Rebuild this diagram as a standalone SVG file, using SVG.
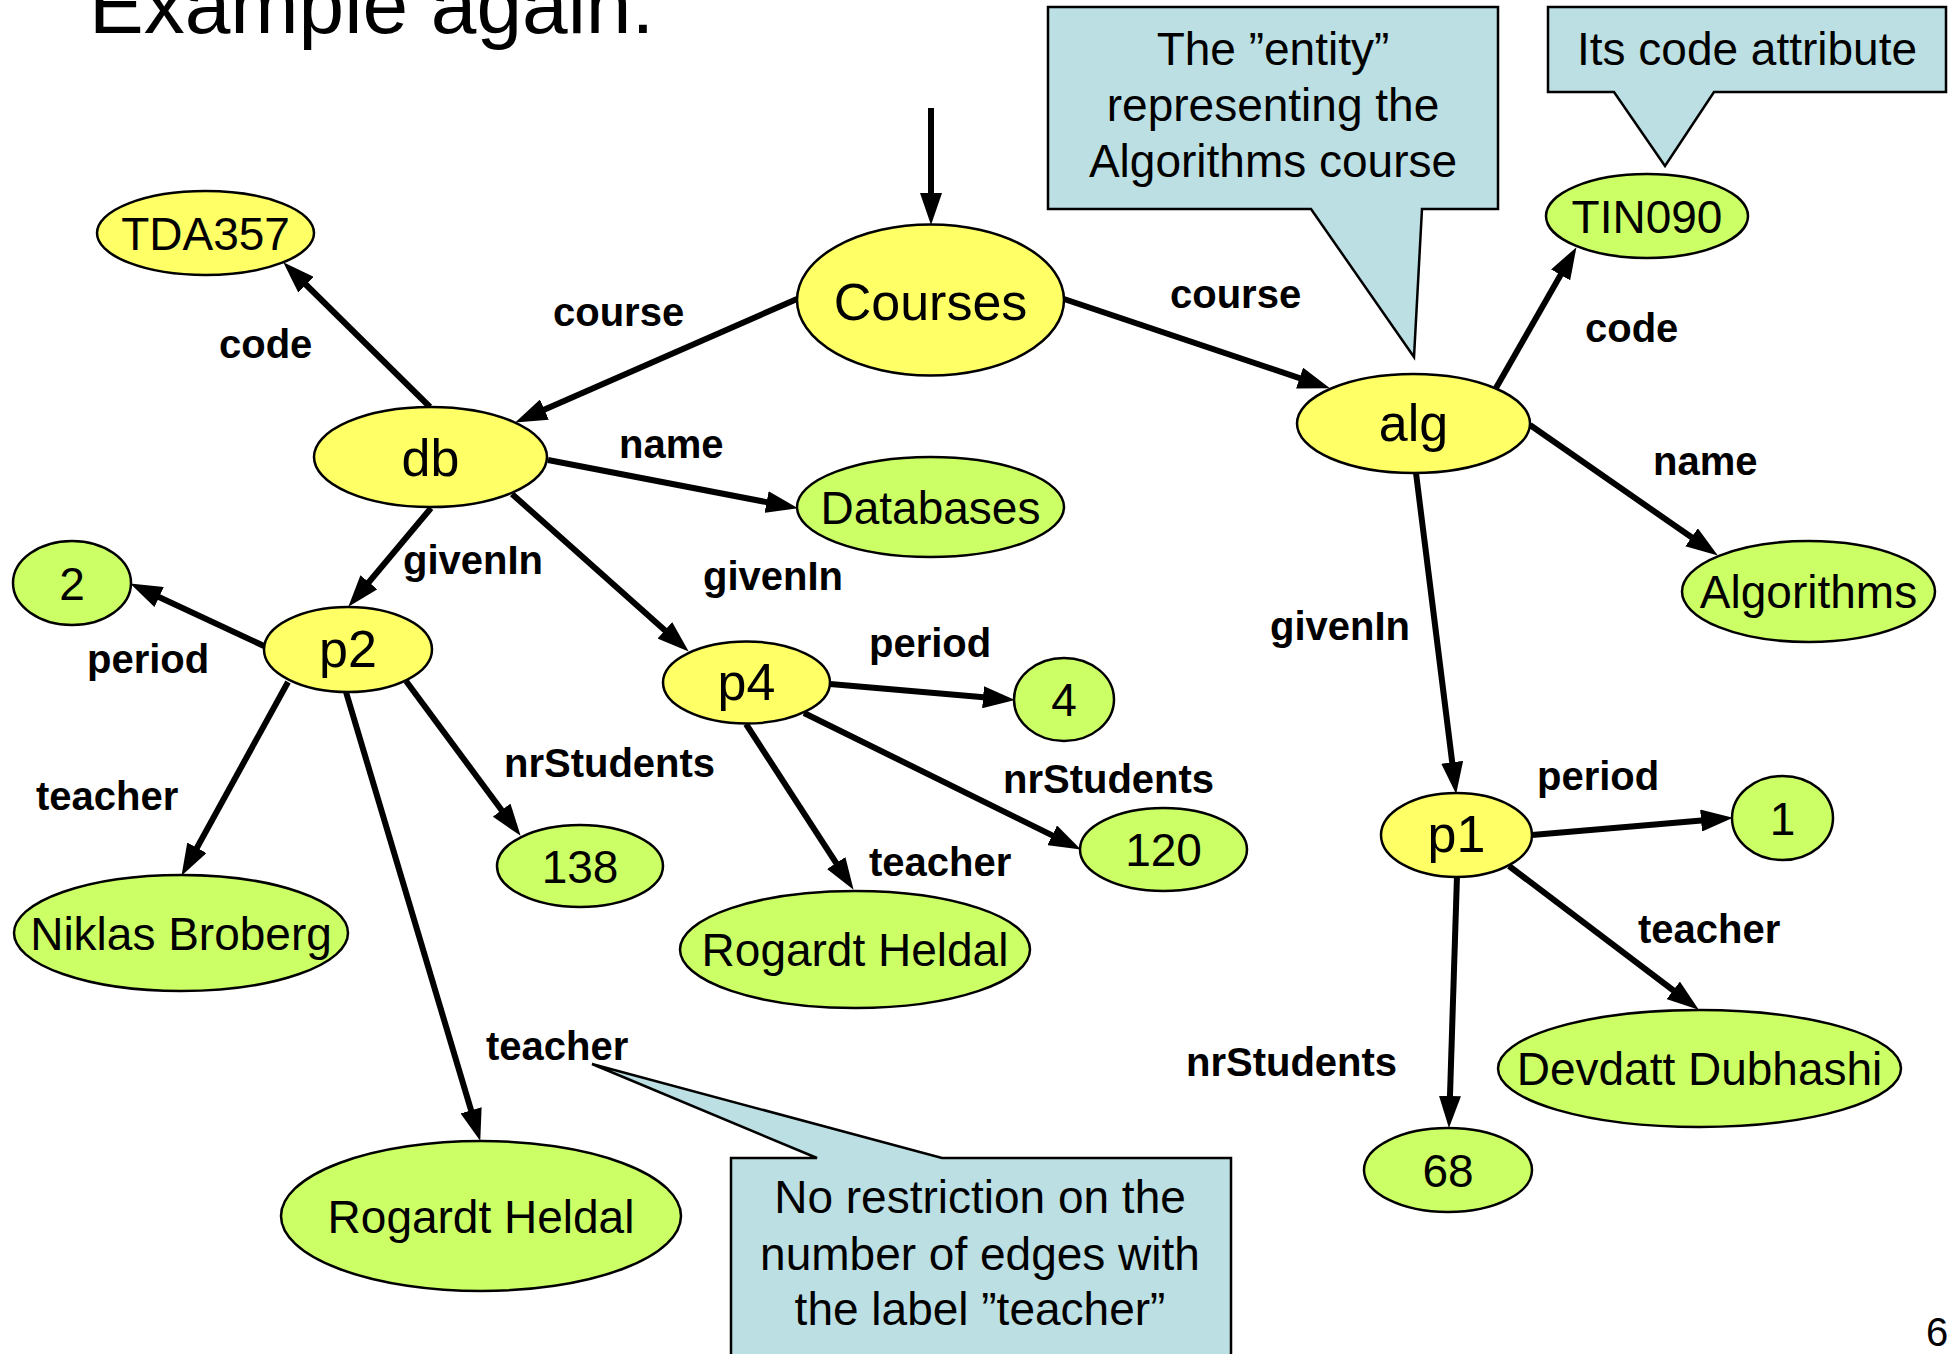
<svg xmlns="http://www.w3.org/2000/svg" width="1948" height="1354" viewBox="0 0 1948 1354">
<style>
.y{fill:#FFFF66;stroke:#000;stroke-width:2.5}
.g{fill:#CCFF66;stroke:#000;stroke-width:2.5}
.e{stroke:#000;stroke-width:6;fill:none;marker-end:url(#ah)}
.nt{font-family:"Liberation Sans",Arial,sans-serif;font-size:52px;text-anchor:middle;fill:#000}
.vt{font-family:"Liberation Sans",Arial,sans-serif;font-size:46px;text-anchor:middle;fill:#000}
.el{font-family:"Liberation Sans",Arial,sans-serif;font-size:40px;font-weight:bold;fill:#000}
.co{fill:#BBDFE2;stroke:#000;stroke-width:2.5}
.ct{font-family:"Liberation Sans",Arial,sans-serif;font-size:46px;text-anchor:middle;fill:#000}
</style>
<defs>
<marker id="ah" viewBox="0 0 32 22" refX="21" refY="11" markerWidth="32" markerHeight="22" markerUnits="userSpaceOnUse" orient="auto">
<path d="M0,0 L32,11 L0,22 z" fill="#000"/>
</marker>
</defs>
<rect width="1948" height="1354" fill="#fff"/>
<text x="89" y="33" font-family="Liberation Sans, Arial, sans-serif" font-size="82">Example again:</text>

<g id="connectors">
<line class="e" x1="931" y1="108" x2="931" y2="214"/>
<line class="e" x1="797" y1="299" x2="525.2" y2="418"/>
<line class="e" x1="1064" y1="299" x2="1319.5" y2="384.8"/>
<line class="e" x1="430" y1="407" x2="291.1" y2="270"/>
<line class="e" x1="548" y1="460" x2="787.2" y2="506.1"/>
<line class="e" x1="431" y1="508" x2="355.4" y2="598.3"/>
<line class="e" x1="512" y1="494" x2="680.5" y2="644.3"/>
<line class="e" x1="264" y1="646" x2="140.1" y2="588.2"/>
<line class="e" x1="288" y1="682" x2="186.8" y2="866.2"/>
<line class="e" x1="346" y1="692" x2="477.1" y2="1130.4"/>
<line class="e" x1="406" y1="681" x2="514.1" y2="827"/>
<line class="e" x1="830" y1="684" x2="1004" y2="699.1"/>
<line class="e" x1="804" y1="713" x2="1071" y2="844.6"/>
<line class="e" x1="746" y1="724" x2="847.6" y2="880.6"/>
<line class="e" x1="1496" y1="388" x2="1571" y2="256.7"/>
<line class="e" x1="1530" y1="425" x2="1708.8" y2="549.3"/>
<line class="e" x1="1416" y1="473" x2="1454.8" y2="783.1"/>
<line class="e" x1="1532" y1="835" x2="1722" y2="818.8"/>
<line class="e" x1="1509" y1="866" x2="1690" y2="1003"/>
<line class="e" x1="1457" y1="876" x2="1449.3" y2="1117"/>
<text class="el" x="553" y="326">course</text>
<text class="el" x="219" y="358">code</text>
<text class="el" x="1170" y="308">course</text>
<text class="el" x="1585" y="342">code</text>
<text class="el" x="619" y="458">name</text>
<text class="el" x="1653" y="475">name</text>
<text class="el" x="403" y="574">givenIn</text>
<text class="el" x="703" y="590">givenIn</text>
<text class="el" x="1270" y="640">givenIn</text>
<text class="el" x="87" y="673">period</text>
<text class="el" x="869" y="657">period</text>
<text class="el" x="1537" y="790">period</text>
<text class="el" x="36" y="810">teacher</text>
<text class="el" x="486" y="1060">teacher</text>
<text class="el" x="869" y="876">teacher</text>
<text class="el" x="1638" y="943">teacher</text>
<text class="el" x="504" y="777">nrStudents</text>
<text class="el" x="1003" y="793">nrStudents</text>
<text class="el" x="1186" y="1076">nrStudents</text>
</g>

<g id="Courses"><ellipse class="y" cx="930.5" cy="300" rx="133.5" ry="75.5"/><text class="nt" x="930.5" y="320">Courses</text></g>
<g id="db"><ellipse class="y" cx="430.5" cy="457" rx="116.5" ry="50"/><text class="nt" x="430.5" y="476">db</text></g>
<g id="alg"><ellipse class="y" cx="1413.5" cy="423.5" rx="116.5" ry="49.5"/><text class="nt" x="1413.5" y="441">alg</text></g>
<g id="p2"><ellipse class="y" cx="348" cy="649.5" rx="84" ry="42.5"/><text class="nt" x="348" y="667">p2</text></g>
<g id="p4"><ellipse class="y" cx="746.5" cy="682.5" rx="83.5" ry="41"/><text class="nt" x="746.5" y="700">p4</text></g>
<g id="p1"><ellipse class="y" cx="1456.5" cy="835" rx="75.5" ry="42"/><text class="nt" x="1456.5" y="852">p1</text></g>
<g id="TDA357"><ellipse class="y" cx="205.5" cy="233" rx="108.5" ry="42"/><text class="vt" x="205.5" y="249.5">TDA357</text></g>
<g id="TIN090"><ellipse class="g" cx="1647" cy="216" rx="101" ry="42"/><text class="vt" x="1647" y="232.5">TIN090</text></g>
<g id="Databases"><ellipse class="g" cx="930.5" cy="507" rx="133.5" ry="50"/><text class="vt" x="930.5" y="523.5">Databases</text></g>
<g id="Algorithms"><ellipse class="g" cx="1808.5" cy="591.5" rx="126.5" ry="50.5"/><text class="vt" x="1808.5" y="608">Algorithms</text></g>
<g id="v2"><ellipse class="g" cx="72" cy="583" rx="59" ry="42"/><text class="vt" x="72" y="599.5">2</text></g>
<g id="v4"><ellipse class="g" cx="1064" cy="699.5" rx="50" ry="41.5"/><text class="vt" x="1064" y="716">4</text></g>
<g id="v1"><ellipse class="g" cx="1782.5" cy="818" rx="50.5" ry="42"/><text class="vt" x="1782.5" y="834.5">1</text></g>
<g id="v138"><ellipse class="g" cx="580" cy="866" rx="83" ry="41"/><text class="vt" x="580" y="882.5">138</text></g>
<g id="v120"><ellipse class="g" cx="1163.5" cy="849.5" rx="83.5" ry="41.5"/><text class="vt" x="1163.5" y="866">120</text></g>
<g id="v68"><ellipse class="g" cx="1448" cy="1170" rx="84" ry="42"/><text class="vt" x="1448" y="1186.5">68</text></g>
<g id="Niklas"><ellipse class="g" cx="181" cy="933" rx="167" ry="58"/><text class="vt" x="181" y="949.5">Niklas Broberg</text></g>
<g id="Rogardt1"><ellipse class="g" cx="855" cy="949.5" rx="175" ry="58.5"/><text class="vt" x="855" y="966">Rogardt Heldal</text></g>
<g id="Rogardt2"><ellipse class="g" cx="481" cy="1216" rx="200" ry="75"/><text class="vt" x="481" y="1232.5">Rogardt Heldal</text></g>
<g id="Devdatt"><ellipse class="g" cx="1699.5" cy="1068.5" rx="201.5" ry="58.5"/><text class="vt" x="1699.5" y="1085">Devdatt Dubhashi</text></g>

<g id="callout-entity">
<path class="co" d="M1048,7 H1498 V209 H1422 L1414,357 L1311,209 H1048 Z"/>
<text class="ct" x="1273" y="65">The ”entity”</text>
<text class="ct" x="1273" y="121">representing the</text>
<text class="ct" x="1273" y="177">Algorithms course</text>
</g>
<g id="callout-code">
<path class="co" d="M1548,7 H1946 V92 H1714 L1665,166 L1614,92 H1548 Z"/>
<text class="ct" x="1747" y="65">Its code attribute</text>
</g>
<g id="callout-teacher">
<path class="co" d="M731,1158 H817 L592,1064 L942,1158 H1231 V1360 H731 Z"/>
<text class="ct" x="980" y="1213">No restriction on the</text>
<text class="ct" x="980" y="1270">number of edges with</text>
<text class="ct" x="980" y="1325">the label ”teacher”</text>
</g>
<text x="1926" y="1346" font-family="Liberation Sans, Arial, sans-serif" font-size="40">6</text>
</svg>
